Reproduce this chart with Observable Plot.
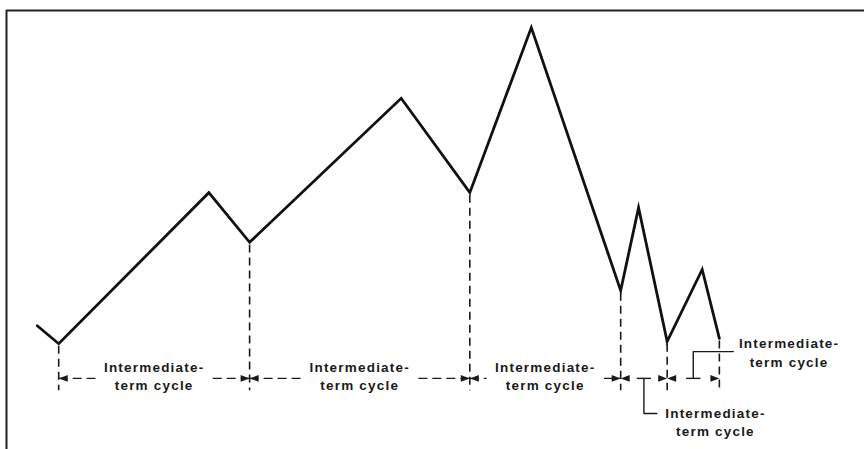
<!DOCTYPE html>
<html><head><meta charset="utf-8">
<script src="https://cdn.jsdelivr.net/npm/d3@7"></script>
<script src="https://cdn.jsdelivr.net/npm/@observablehq/plot@0.6"></script>
<style>
html,body{margin:0;padding:0;background:#fff;overflow:hidden}
#chart svg{overflow:hidden;display:block}
#chart svg text{letter-spacing:1.2px}
</style></head><body><div id="chart"></div>
<script>
// Price path (time units on x, price units on y)
const time  = [4.3, 7.3, 28.3, 34.0, 55.2, 64.8, 73.4, 85.9, 88.4, 92.4, 97.3, 99.7];
const price = [28.2, 24.1, 58.5, 47.2, 80.0, 58.5, 96.1, 36.2, 55.1, 24.6, 41.0, 25.3];
// Troughs that bound each intermediate-term cycle (indices into the path)
const boundaryIndex = [1, 3, 5, 7, 9, 11];
const cycleLabel = "Intermediate-\nterm cycle";

// ---- layout (annotation placement, not data) ----
const rowY = 16.2, tickBottom = 13.4, labelGap = 8.2;
const placement = ["inline", "inline", "inline", "below", "above"];
const bracket = {
  below: {stemY: 8.2, arm: 1.8, tx: 10.0, ty: 6.4},
  above: {stemY: 22.3, arm: 5.6, tx: 13.4, ty: 22.3}
};

const path = time.map((t, i) => ({t, p: price[i]}));
const bounds = boundaryIndex.map(i => ({t: time[i], p: price[i]}));
const cycles = d3.pairs(bounds).map(([a, b], k) => ({a: a.t, b: b.t, mid: (a.t + b.t) / 2, place: placement[k]}));
const inline = cycles.filter(c => c.place === "inline");
const spans = inline.flatMap(c => [
  {x1: c.a, x2: Math.max(c.a, c.mid - labelGap)},
  {x1: Math.min(c.b, c.mid + labelGap), x2: c.b}
]);
const bracketed = cycles.filter(c => c.place !== "inline");
const bracketLines = bracketed.flatMap(c => {
  const s = bracket[c.place];
  return [{t: c.mid, p: rowY, id: c.place}, {t: c.mid, p: s.stemY, id: c.place}, {t: c.mid + s.arm, p: s.stemY, id: c.place}];
});
const bracketText = bracketed.map(c => ({t: c.mid + bracket[c.place].tx, p: bracket[c.place].ty}));

const arrowRight = {draw(ctx) { ctx.moveTo(0, 0); ctx.lineTo(-9, -3.3); ctx.lineTo(-9, 3.3); ctx.closePath(); }};
const arrowLeft  = {draw(ctx) { ctx.moveTo(0, 0); ctx.lineTo(9, -3.3); ctx.lineTo(9, 3.3); ctx.closePath(); }};

const ink = "#1a1a1a";
const font = {fontFamily: "Liberation Sans, Arial, sans-serif", fontSize: 13.5, fontWeight: "bold", lineHeight: 1.36, fill: ink};

const chart = Plot.plot({
  width: 864, height: 449,
  marginLeft: 6, marginTop: 10, marginRight: 0, marginBottom: 0,
  x: {domain: [0, 120], axis: null},
  y: {domain: [0, 100], axis: null},
  marks: [
    Plot.ruleY([100], {stroke: "#222", strokeWidth: 2}),
    Plot.ruleX([0], {stroke: "#222", strokeWidth: 2}),
    // dashed verticals at cycle troughs
    Plot.ruleX(bounds, {x: "t", y1: d => d.p - 0.6, y2: tickBottom, stroke: ink, strokeWidth: 1.6, strokeDasharray: "8,5"}),
    // dashed horizontal spans for inline cycles (broken around the label)
    Plot.link(spans, {x1: "x1", x2: "x2", y1: rowY, y2: rowY, stroke: ink, strokeWidth: 1.4, strokeDasharray: "9,5"}),
    Plot.text(inline, {x: "mid", y: rowY, dy: -3, text: () => cycleLabel, ...font}),
    // short mid segments and brackets for narrow cycles
    Plot.link(bracketed, {x1: d => d.mid - 1.0, x2: d => d.mid + 1.0, y1: rowY, y2: rowY, stroke: ink, strokeWidth: 1.4}),
    Plot.line(bracketLines, {x: "t", y: "p", z: "id", stroke: ink, strokeWidth: 1.4, curve: "linear"}),
    Plot.text(bracketText, {x: "t", y: "p", text: () => cycleLabel, ...font}),
    // arrowheads
    Plot.dot(cycles, {x: "a", y: rowY, symbol: arrowLeft, fill: ink, stroke: "none"}),
    Plot.dot(cycles, {x: "b", y: rowY, symbol: arrowRight, fill: ink, stroke: "none"}),
    // price path
    Plot.line(path, {x: "t", y: "p", stroke: "#111", strokeWidth: 2.8, strokeLinejoin: "miter", strokeMiterlimit: 6})
  ]
});
document.getElementById("chart").append(chart);
</script></body></html>
